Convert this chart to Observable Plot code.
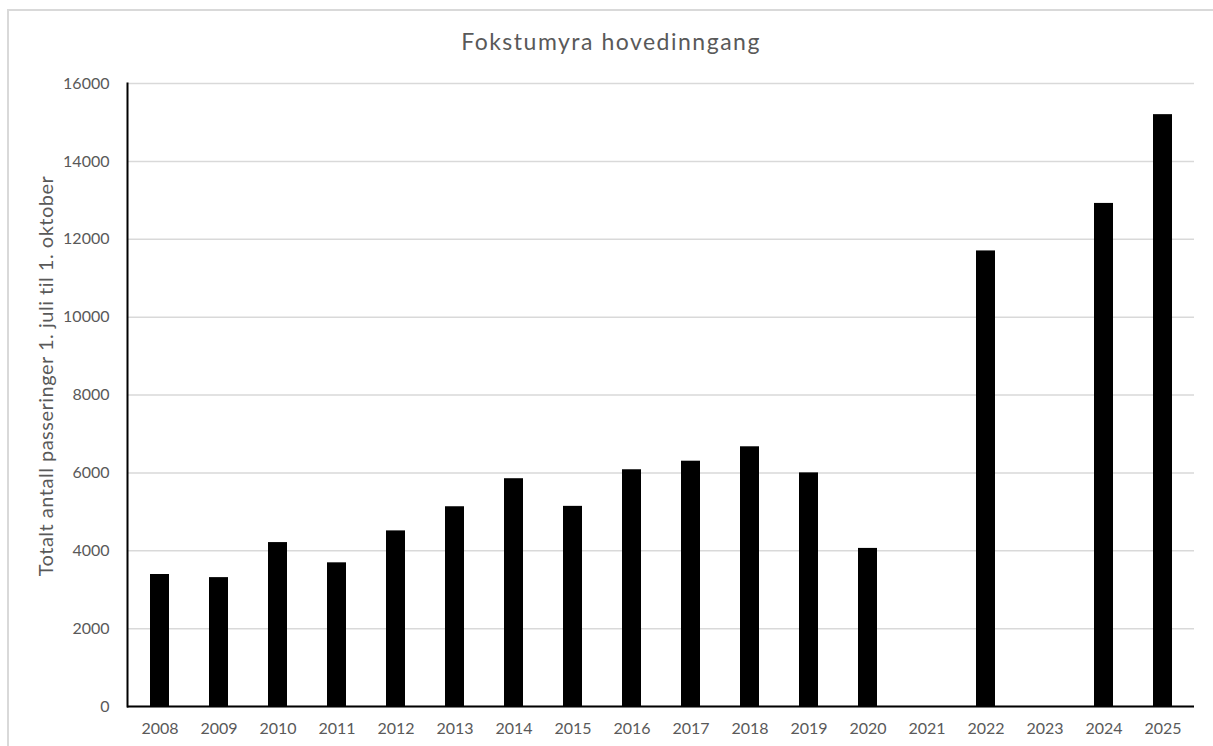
<!DOCTYPE html>
<html>
<head>
<meta charset="utf-8">
<script src="https://cdn.jsdelivr.net/npm/d3@7"></script>
<script src="https://cdn.jsdelivr.net/npm/@observablehq/plot@0.6"></script>
<style>
  html, body { margin: 0; padding: 0; background: #fff; overflow: hidden; }
  #wrap { position: relative; width: 1213px; height: 746px; overflow: hidden; }
  #frame { position: absolute; left: 7px; top: 9px; width: 1230px; height: 780px;
           border: 2px solid #d9d9d9; box-sizing: border-box; }
  #title { position: absolute; left: 0; top: 27px; width: 1222px; text-align: center;
           font-family: Lato, sans-serif; font-size: 23px; color: #595959; letter-spacing: 1.5px; }
  #chart { position: absolute; left: 0; top: 0; }
</style>
</head>
<body>
<div id="wrap">
  <div id="frame"></div>
  <div id="title">Fokstumyra hovedinngang</div>
  <div id="chart"></div>
</div>
<script>
const years = ["2008","2009","2010","2011","2012","2013","2014","2015","2016","2017","2018","2019","2020","2021","2022","2023","2024","2025"];
const passages = [3390, 3310, 4210, 3690, 4510, 5130, 5850, 5140, 6080, 6300, 6670, 6000, 4060, null, 11700, null, 12920, 15200];
const yTicks = [0, 2000, 4000, 6000, 8000, 10000, 12000, 14000, 16000];
const yLabel = "Totalt antall passeringer 1. juli til 1. oktober";

const data = years.map((y, i) => ({year: y, value: passages[i]})).filter(d => d.value != null);

const chart = Plot.plot({
  width: 1213,
  height: 746,
  marginLeft: 127,
  marginRight: 19,
  marginTop: 83,
  marginBottom: 40,
  style: {fontFamily: "Lato, sans-serif", fontSize: "16px", color: "#595959", background: "transparent"},
  x: {domain: years, paddingInner: 0.68, paddingOuter: 0.34, label: null},
  y: {domain: [0, 16000], label: null},
  marks: [
    Plot.gridY(yTicks, {stroke: "#d9d9d9", strokeOpacity: 1, strokeWidth: 1.5}),
    Plot.barY(data, {x: "year", y: "value", fill: "#000"}),
    Plot.ruleY([0], {stroke: "#000", strokeWidth: 2}),
    Plot.axisY(yTicks, {tickSize: 0, tickPadding: 18, tickFormat: d => String(d), fill: "#595959", fontSize: 16, label: null}),
    Plot.axisX(years, {tickSize: 0, tickPadding: 16, fill: "#595959", fontSize: 16, label: null}),
    Plot.frame({anchor: "left", stroke: "#000", strokeWidth: 2}),
    Plot.text([yLabel], {frameAnchor: "left", dx: -81, dy: -19, rotate: -90, fill: "#595959", fontSize: 20, textAnchor: "middle", lineAnchor: "middle"})
  ]
});
d3.select(chart).selectAll("text").filter(function() { return this.textContent === yLabel; })
  .attr("letter-spacing", "0.5px");
document.getElementById("chart").appendChild(chart);
</script>
</body>
</html>
